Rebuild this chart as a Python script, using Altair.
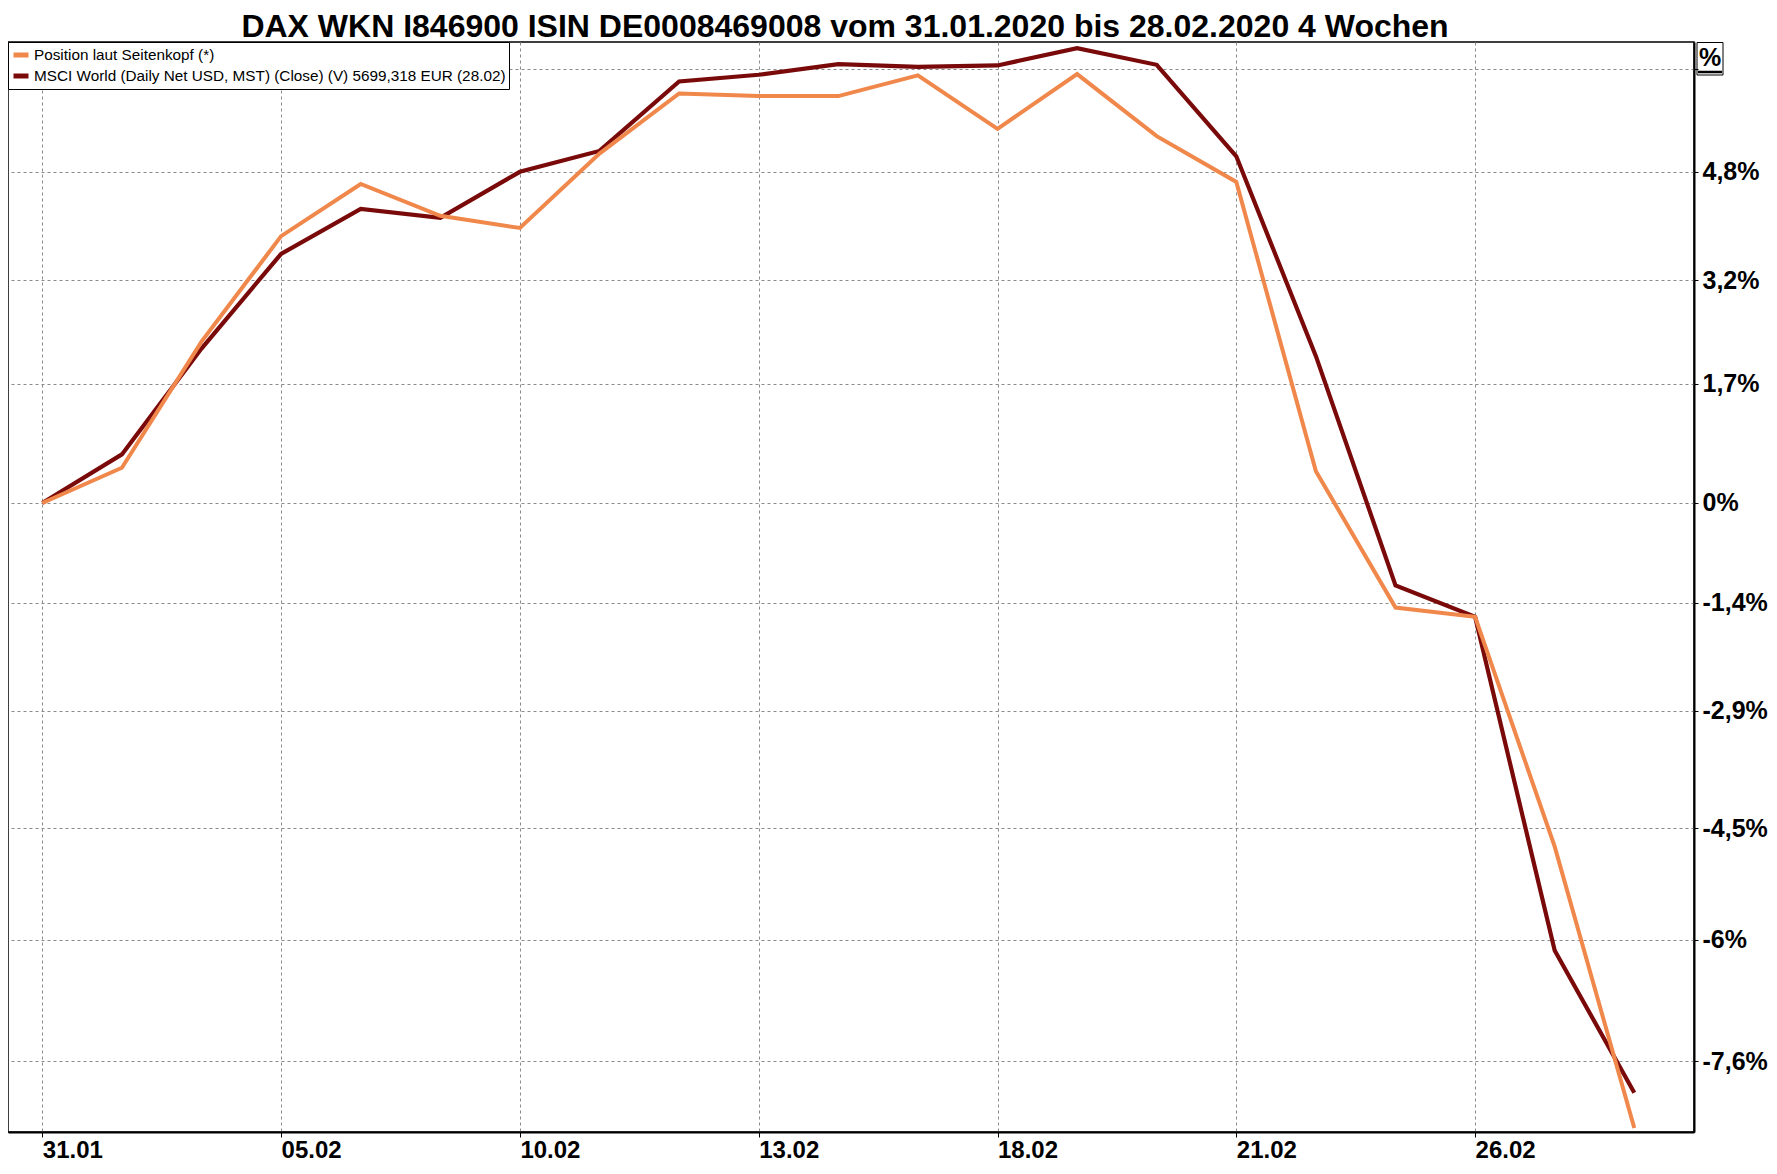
import altair as alt
import pandas as pd

TITLE = "DAX WKN I846900 ISIN DE0008469008 vom 31.01.2020 bis 28.02.2020 4 Wochen"
SERIES_A = "Position laut Seitenkopf (*)"
SERIES_B = "MSCI World (Daily Net USD, MST) (Close) (V) 5699,318 EUR (28.02)"

dates = ["31.01", "03.02", "04.02", "05.02", "06.02", "07.02", "10.02", "11.02",
         "12.02", "13.02", "14.02", "17.02", "18.02", "19.02", "20.02", "21.02",
         "24.02", "25.02", "26.02", "27.02", "28.02"]

dax_pct = [0.0, 0.50, 2.31, 3.85, 4.62, 4.15, 3.97, 5.07, 5.97, 5.93, 5.93,
           6.24, 5.44, 6.26, 5.33, 4.65, 0.45, -1.47, -1.60, -4.75, -8.47]
msci_pct = [0.0, 0.69, 2.21, 3.59, 4.25, 4.12, 4.80, 5.11, 6.15, 6.25, 6.41,
            6.37, 6.39, 6.65, 6.40, 5.03, 2.10, -1.16, -1.60, -6.14, -8.01]

x_tick_idx = [0, 3, 6, 9, 12, 15, 18]
y_tick_pct = [6.34, 4.8, 3.2, 1.7, 0.0, -1.4, -2.9, -4.5, -6.0, -7.6]
y_tick_lbl = ["", "4,8%", "3,2%", "1,7%", "0%", "-1,4%", "-2,9%", "-4,5%", "-6%", "-7,6%"]

COL_A = "#F0874B"
COL_B = "#7A0A0A"
FONT = "Liberation Sans, Arial, sans-serif"

W, H = 1686, 1090
PAD_TOP, PAD_BOTTOM = 34, 34

rows = []
for i, d in enumerate(dates):
    rows.append({"idx": i, "date": d, "series": SERIES_A, "pct": dax_pct[i]})
    rows.append({"idx": i, "date": d, "series": SERIES_B, "pct": msci_pct[i]})
df = pd.DataFrame(rows)

y_factors = [round(1 + v / 100.0, 6) for v in y_tick_pct]


def chain(vals, labels):
    expr = "''"
    for v, l in reversed(list(zip(vals, labels))):
        expr = f"(abs(datum.value - {v}) < 1e-6 ? '{l}' : {expr})"
    return expr


x_expr = chain(x_tick_idx, [dates[i] for i in x_tick_idx])
y_expr = chain(y_factors, y_tick_lbl)

x_enc = alt.X(
    "idx:Q",
    scale=alt.Scale(domain=[-0.431, 20.75], nice=False, zero=False),
    axis=alt.Axis(
        values=x_tick_idx, labelExpr=x_expr, title=None,
        grid=True, gridDash=[3, 3], gridColor="#8a8a8a", gridWidth=1,
        domainColor="black", domainWidth=2, tickColor="black", tickSize=5, tickWidth=1,
        labelFont=FONT, labelFontSize=24, labelFontWeight="bold", labelColor="black",
        labelAlign="left", labelBaseline="top", labelPadding=1,
        labelFlush=False, labelOverlap=False,
    ),
)
y_enc = alt.Y(
    "factor:Q",
    scale=alt.Scale(type="log", domain=[0.91479, 1.06744], nice=False, zero=False),
    axis=alt.Axis(
        orient="right", values=y_factors, labelExpr=y_expr, title=None,
        grid=True, gridDash=[3, 3], gridColor="#8a8a8a", gridWidth=1,
        domainColor="black", domainWidth=2, tickColor="black", tickSize=4, tickWidth=1,
        labelFont=FONT, labelFontSize=25, labelFontWeight="bold", labelColor="black",
        labelAlign="left", labelBaseline="middle", labelPadding=4,
        labelOverlap=False,
    ),
)
color_enc = alt.Color(
    "series:N",
    scale=alt.Scale(domain=[SERIES_A, SERIES_B], range=[COL_A, COL_B]),
    legend=alt.Legend(
        title=None, orient="top-left", offset=0,
        symbolType="stroke", symbolStrokeWidth=5, symbolSize=225,
        labelFont=FONT, labelFontSize=15.3, labelColor="black", labelLimit=900,
        labelOffset=3, padding=3, rowPadding=1,
        strokeColor="black", fillColor="white",
    ),
)

base = alt.Chart(df).transform_calculate(factor="1 + datum.pct / 100")

line_b = base.transform_filter(alt.datum.series == SERIES_B).mark_line(
    strokeWidth=4.2).encode(x=x_enc, y=y_enc, color=color_enc, order="idx:Q")
line_a = base.transform_filter(alt.datum.series == SERIES_A).mark_line(
    strokeWidth=4).encode(x=x_enc, y=y_enc, color=color_enc, order="idx:Q")

title_layer = alt.Chart(pd.DataFrame({"t": [TITLE]})).mark_text(
    font=FONT, fontSize=32, fontWeight="bold", color="black",
    align="center", baseline="alphabetic",
).encode(text="t:N", x=alt.value(837), y=alt.value(-5))

pct_layer = alt.Chart(pd.DataFrame({"t": ["%"]})).mark_text(
    font=FONT, fontSize=25, fontWeight="bold", color="black",
    align="center", baseline="middle",
).encode(text="t:N", x=alt.value(W + 16), y=alt.value(16))

underline = alt.Chart(pd.DataFrame({"t": [1]})).mark_rule(
    color="black", strokeWidth=2.5
).encode(x=alt.value(W + 4), x2=alt.value(W + 28), y=alt.value(30))

box = alt.Chart(pd.DataFrame({"t": [1]})).mark_rect(
    fillOpacity=0, stroke="black", strokeWidth=1
).encode(x=alt.value(W + 3), x2=alt.value(W + 29), y=alt.value(0.5), y2=alt.value(33))

chart = alt.layer(line_b, line_a, title_layer, pct_layer, underline, box).properties(
    width=W, height=H,
    autosize=alt.AutoSizeParams(type="none"),
    padding={"left": 0, "top": PAD_TOP, "right": 75, "bottom": PAD_BOTTOM},
    background="white",
).configure_view(stroke="black", strokeWidth=1.5)

chart.save("out.html", embed_options={"renderer": "svg", "actions": False})
